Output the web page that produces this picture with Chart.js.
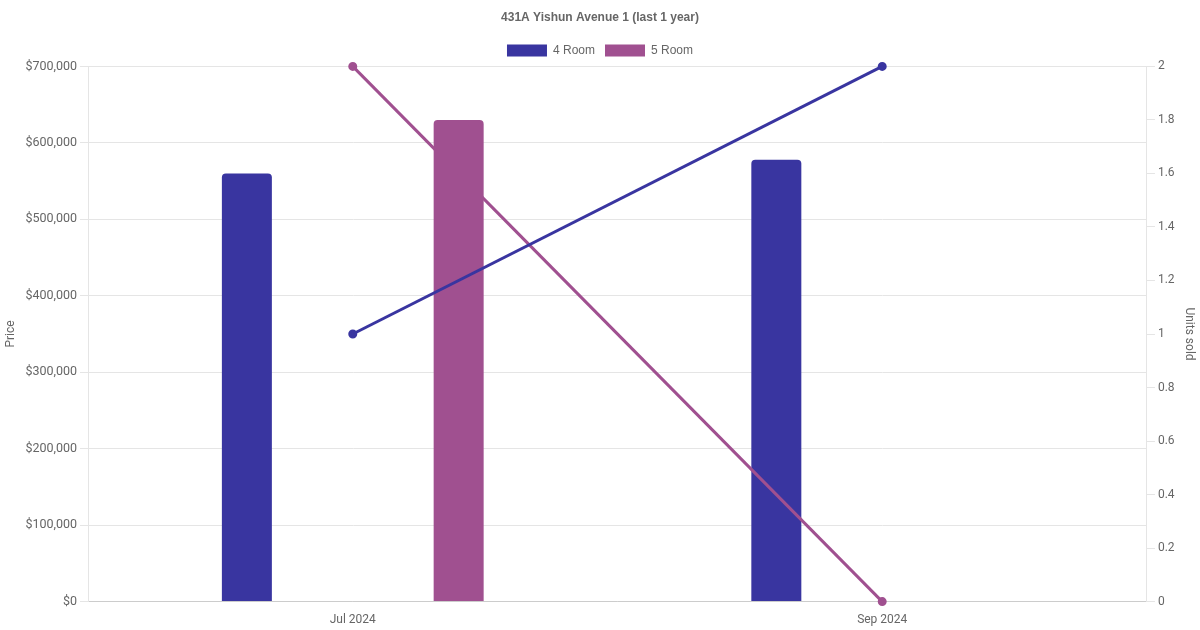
<!DOCTYPE html>
<html>
<head>
<meta charset="utf-8">
<script src="https://cdn.jsdelivr.net/npm/chart.js@4.4.1/dist/chart.umd.min.js"></script>
<style>
  html, body { margin: 0; padding: 0; background: #fff; }
  #wrap { width: 1200px; height: 630px; }
</style>
</head>
<body>
<div id="wrap"><canvas id="c" width="1200" height="630"></canvas></div>
<script>
const chartTitle = '431A Yishun Avenue 1 (last 1 year)';
const categories = ['Jul 2024', 'Sep 2024'];
const seriesNames = ['4 Room', '5 Room'];
const price4Room = [560000, 578000];
const price5Room = [630000, null];
const units4Room = [1, 2];
const units5Room = [2, 0];
const colors = ['#3935a0', '#a05090'];

Chart.defaults.font.family = '"Liberation Sans", Arial, Helvetica, sans-serif';
Chart.defaults.font.size = 12;
Chart.defaults.color = '#666';
const tickFont = { family: 'Roboto, "Liberation Sans", Arial, sans-serif', size: 12 };
const leftTickFont = { family: 'Roboto, "Liberation Sans", Arial, sans-serif', size: 12.5 };

new Chart(document.getElementById('c'), {
  data: {
    labels: categories,
    datasets: [
      { type: 'line', label: seriesNames[0], data: units4Room, yAxisID: 'y1',
        borderColor: colors[0], backgroundColor: colors[0], borderWidth: 3,
        pointRadius: 3, pointHoverRadius: 3, order: 0, isLine: true, clip: false },
      { type: 'line', label: seriesNames[1], data: units5Room, yAxisID: 'y1',
        borderColor: colors[1], backgroundColor: colors[1], borderWidth: 3,
        pointRadius: 3, pointHoverRadius: 3, order: 1, isLine: true, clip: false },
      { type: 'bar', label: seriesNames[0], data: price4Room, yAxisID: 'y',
        backgroundColor: colors[0], borderRadius: 4, borderSkipped: 'bottom',
        maxBarThickness: 50, order: 2 },
      { type: 'bar', label: seriesNames[1], data: price5Room, yAxisID: 'y',
        backgroundColor: colors[1], borderRadius: 4, borderSkipped: 'bottom',
        maxBarThickness: 50, order: 3 }
    ]
  },
  options: {
    responsive: false,
    animation: false,
    devicePixelRatio: 1,
    plugins: {
      title: { display: true, text: chartTitle, font: { size: 12, weight: 'bold' }, color: '#666' },
      legend: {
        labels: {
          filter: (item, data) => !data.datasets[item.datasetIndex].isLine,
          boxWidth: 40, boxHeight: 12
        }
      },
      tooltip: { enabled: false }
    },
    scales: {
      x: {
        grid: { display: false },
        border: { display: true, color: '#ccc' },
        ticks: { font: tickFont }
      },
      y: {
        position: 'left',
        min: 0, max: 700000,
        ticks: { stepSize: 100000, font: leftTickFont, callback: v => '$' + v.toLocaleString('en-US') },
        grid: { color: '#e5e5e5' },
        border: { color: '#e5e5e5' },
        title: { display: true, text: 'Price', font: tickFont }
      },
      y1: {
        position: 'right',
        min: 0, max: 2,
        ticks: { stepSize: 0.2, font: tickFont, callback: v => String(Math.round(v * 10) / 10) },
        grid: { drawOnChartArea: false, color: '#e5e5e5' },
        border: { color: '#e5e5e5' },
        title: { display: true, text: 'Units sold', font: tickFont }
      }
    }
  }
});
</script>
</body>
</html>
